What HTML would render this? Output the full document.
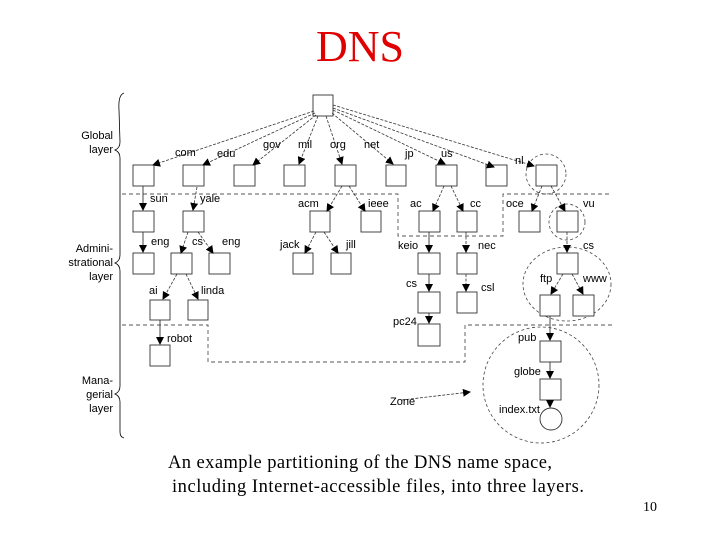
<!DOCTYPE html>
<html><head><meta charset="utf-8"><style>
html,body{margin:0;padding:0;background:#fff}
svg{display:block}
text{font-family:"Liberation Sans",sans-serif;font-size:11px;fill:#000}
.s{font-family:"Liberation Serif",serif}
</style></head><body>
<svg width="720" height="540" viewBox="0 0 720 540" xmlns="http://www.w3.org/2000/svg">
<defs>
<marker id="a" markerWidth="8" markerHeight="8" refX="7" refY="4" orient="auto" markerUnits="userSpaceOnUse">
<path d="M0,0 L8,4 L0,8 z" fill="#000"/></marker>
</defs>
<text class="s" x="360" y="61" text-anchor="middle" style="font-size:44px;fill:#e00000">DNS</text>

<!-- left brace -->
<path d="M124,93 Q118,95 119,110 L120,142 Q120,148 115,150 Q120,152 120,158 L120,255 Q120,261 115,263 Q120,265 120,271 L120,386 Q120,392 115,394 Q120,396 120,402 L120,432 Q120,437 124,438" fill="none" stroke="#000" stroke-width="0.8"/>
<g text-anchor="end">
<text x="113" y="139">Global</text><text x="113" y="153">layer</text>
<text x="113" y="252">Admini-</text><text x="113" y="266">strational</text><text x="113" y="280">layer</text>
<text x="113" y="384">Mana-</text><text x="113" y="398">gerial</text><text x="113" y="412">layer</text>
</g>

<!-- layer dashed lines -->
<g fill="none" stroke="#555" stroke-width="0.9" stroke-dasharray="4,3">
<path d="M122,194 H398 V236 H503 V194 H612"/>
<path d="M122,325 H208 V362 H465 V325 H612"/>
</g>
<!-- zone circles -->
<g fill="none" stroke="#444" stroke-width="0.8" stroke-dasharray="3,2.5">
<circle cx="546" cy="174" r="20"/>
<circle cx="567" cy="222" r="18"/>
<ellipse cx="567" cy="284" rx="44" ry="37"/>
<circle cx="541" cy="385" r="58"/>
</g>

<!-- boxes -->
<g fill="#fff" stroke="#333" stroke-width="0.9">
<rect x="313" y="95" width="20" height="21"/>
<rect x="133" y="165" width="21" height="21"/><rect x="183" y="165" width="21" height="21"/>
<rect x="234" y="165" width="21" height="21"/><rect x="284" y="165" width="21" height="21"/>
<rect x="335" y="165" width="21" height="21"/><rect x="386" y="165" width="20" height="21"/>
<rect x="436" y="165" width="21" height="21"/><rect x="486" y="165" width="21" height="21"/>
<rect x="536" y="165" width="21" height="21"/>
<rect x="133" y="211" width="21" height="21"/><rect x="183" y="211" width="21" height="21"/>
<rect x="310" y="211" width="20" height="21"/><rect x="361" y="211" width="20" height="21"/>
<rect x="419" y="211" width="21" height="21"/><rect x="457" y="211" width="20" height="21"/>
<rect x="519" y="211" width="21" height="21"/><rect x="557" y="211" width="21" height="21"/>
<rect x="133" y="253" width="21" height="21"/><rect x="171" y="253" width="21" height="21"/>
<rect x="209" y="253" width="21" height="21"/><rect x="293" y="253" width="20" height="21"/>
<rect x="331" y="253" width="20" height="21"/><rect x="418" y="253" width="22" height="21"/>
<rect x="457" y="253" width="20" height="21"/><rect x="557" y="253" width="21" height="21"/>
<rect x="150" y="300" width="20" height="20"/><rect x="188" y="300" width="20" height="20"/>
<rect x="418" y="292" width="22" height="21"/><rect x="457" y="292" width="20" height="21"/>
<rect x="540" y="295" width="20" height="21"/><rect x="573" y="295" width="21" height="21"/>
<rect x="418" y="324" width="22" height="22"/>
<rect x="150" y="345" width="20" height="21"/>
<rect x="540" y="341" width="21" height="21"/><rect x="540" y="379" width="21" height="21"/>
<circle cx="551" cy="419" r="11"/>
</g>

<!-- edges -->
<g fill="none" stroke="#333" stroke-width="0.8" stroke-dasharray="3,1.5" marker-end="url(#a)">
<line x1="314" y1="111" x2="153" y2="165"/>
<line x1="315" y1="113" x2="203" y2="165"/>
<line x1="316" y1="115" x2="253" y2="165"/>
<line x1="318" y1="116" x2="299" y2="164"/>
<line x1="326" y1="116" x2="342" y2="164"/>
<line x1="332" y1="113" x2="393" y2="164"/>
<line x1="333" y1="110" x2="445" y2="164"/>
<line x1="333" y1="108" x2="494" y2="167"/>
<line x1="333" y1="105" x2="534" y2="166"/>
<line x1="197" y1="187" x2="193" y2="210"/>
<line x1="342" y1="186" x2="327" y2="211"/>
<line x1="349" y1="186" x2="365" y2="211"/>
<line x1="444" y1="186" x2="433" y2="211"/>
<line x1="451" y1="186" x2="463" y2="211"/>
<line x1="542" y1="186" x2="532" y2="211"/>
<line x1="551" y1="186" x2="565" y2="211"/>
<line x1="188" y1="232" x2="181" y2="253"/>
<line x1="198" y1="232" x2="213" y2="253"/>
<line x1="316" y1="232" x2="305" y2="253"/>
<line x1="324" y1="232" x2="338" y2="253"/>
<line x1="466" y1="232" x2="466" y2="252"/>
<line x1="567" y1="232" x2="567" y2="252"/>
<line x1="177" y1="274" x2="163" y2="299"/>
<line x1="186" y1="274" x2="198" y2="299"/>
<line x1="466" y1="274" x2="466" y2="291"/>
<line x1="563" y1="274" x2="551" y2="294"/>
<line x1="572" y1="274" x2="583" y2="294"/>
<line x1="402" y1="400" x2="470" y2="392"/>
</g>
<g fill="none" stroke="#333" stroke-width="0.9" marker-end="url(#a)">
<line x1="143" y1="186" x2="143" y2="210"/>
<line x1="143" y1="232" x2="143" y2="252"/>
<line x1="429" y1="232" x2="429" y2="252"/>
<line x1="429" y1="274" x2="429" y2="291"/>
<line x1="429" y1="313" x2="429" y2="323"/>
<line x1="160" y1="320" x2="160" y2="344"/>
<line x1="550" y1="316" x2="550" y2="340"/>
<line x1="550" y1="362" x2="550" y2="378"/>
<line x1="550" y1="400" x2="550" y2="407"/>
</g>

<!-- labels -->
<text x="175" y="156">com</text><text x="217" y="157">edu</text>
<text x="263" y="148">gov</text><text x="298" y="148">mil</text>
<text x="330" y="148">org</text><text x="364" y="148">net</text>
<text x="405" y="157">jp</text><text x="441" y="157">us</text>
<text x="515" y="164">nl</text>
<text x="150" y="202">sun</text><text x="200" y="202">yale</text>
<text x="298" y="207">acm</text><text x="368" y="207">ieee</text>
<text x="410" y="207">ac</text><text x="470" y="207">cc</text>
<text x="506" y="207">oce</text><text x="583" y="207">vu</text>
<text x="151" y="245">eng</text><text x="192" y="245">cs</text><text x="222" y="245">eng</text>
<text x="280" y="248">jack</text><text x="346" y="248">jill</text>
<text x="398" y="249">keio</text><text x="478" y="249">nec</text>
<text x="583" y="249">cs</text>
<text x="149" y="294">ai</text><text x="201" y="294">linda</text>
<text x="406" y="287">cs</text><text x="481" y="291">csl</text>
<text x="540" y="282">ftp</text><text x="583" y="282">www</text>
<text x="393" y="325">pc24</text><text x="167" y="342">robot</text>
<text x="518" y="341">pub</text><text x="514" y="375">globe</text>
<text x="499" y="413">index.txt</text><text x="390" y="405">Zone</text>

<!-- caption -->
<text class="s" x="168" y="468" style="font-size:18.5px" textLength="384">An example partitioning of the DNS name space,</text>
<text class="s" x="172" y="492" style="font-size:18.5px" textLength="412">including Internet-accessible files, into three layers.</text>
<text class="s" x="643" y="511" style="font-size:14px">10</text>
</svg>
</body></html>
